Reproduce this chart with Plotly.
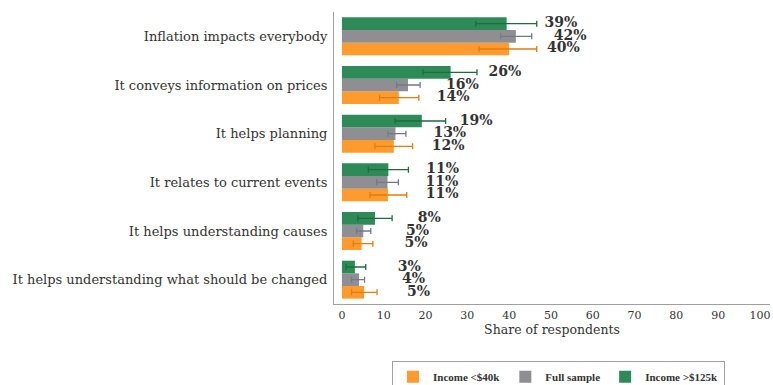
import plotly.graph_objects as go

# Reasons respondents give, listed top to bottom
categories = [
    "Inflation impacts everybody",
    "It conveys information on prices",
    "It helps planning",
    "It relates to current events",
    "It helps understanding causes",
    "It helps understanding what should be changed",
]

series_names = ["Income <$40k", "Full sample", "Income >$125k"]

# Shares (%) and confidence bounds per group
low_income = [40.0, 13.6, 12.4, 11.0, 4.7, 5.3]
low_income_lo = [32.8, 9.0, 7.9, 6.7, 2.7, 2.3]
low_income_hi = [46.6, 18.4, 16.9, 15.5, 7.4, 8.4]

full_sample = [41.6, 15.8, 12.8, 10.9, 5.1, 4.1]
full_sample_lo = [38.0, 13.1, 11.0, 8.3, 3.5, 2.3]
full_sample_hi = [45.4, 18.7, 15.3, 13.5, 6.9, 5.4]

high_income = [39.4, 26.0, 19.1, 11.1, 7.9, 3.1]
high_income_lo = [32.0, 19.4, 12.7, 6.3, 3.8, 1.0]
high_income_hi = [46.6, 32.3, 24.8, 15.9, 12.0, 5.7]

x_ticks = [0, 10, 20, 30, 40, 50, 60, 70, 80, 90, 100]

bar_colors = ["#ff9a2e", "#8f8f93", "#2e8b57"]
err_colors = ["#e07d10", "#6f7a8f", "#1f6b3f"]
LABEL_SHIFT = 13  # label centre sits this far right of the bar end

SERIF = "DejaVu Serif"
LEGEND_SERIF = "Liberation Serif"
TEXT = "#333333"

series = [
    (low_income, low_income_lo, low_income_hi),
    (full_sample, full_sample_lo, full_sample_hi),
    (high_income, high_income_lo, high_income_hi),
]

fig = go.Figure()

for i, (name, (vals, lo, hi)) in enumerate(zip(series_names, series)):
    fig.add_trace(go.Bar(
        name=name,
        orientation="h",
        x=vals,
        y=categories,
        marker=dict(color=bar_colors[i], line=dict(width=0)),
        offsetgroup=str(i),
        error_x=dict(
            type="data",
            symmetric=False,
            array=[h - v for h, v in zip(hi, vals)],
            arrayminus=[v - l for v, l in zip(vals, lo)],
            color=err_colors[i],
            thickness=1.3,
            width=3,
        ),
    ))

for i, (vals, lo, hi) in enumerate(series):
    fig.add_trace(go.Scatter(
        x=[v + LABEL_SHIFT for v in vals],
        y=categories,
        orientation="h",
        mode="text",
        text=[f"<b>{v:.0f}%</b>" for v in vals],
        textposition="middle center",
        textfont=dict(family=SERIF, size=14, color=TEXT),
        offsetgroup=str(i),
        showlegend=False,
        hoverinfo="skip",
        cliponaxis=False,
    ))

fig.update_layout(
    width=773,
    height=385,
    barmode="group",
    scattermode="group",
    bargap=0.22,
    bargroupgap=0,
    scattergap=0.22,
    plot_bgcolor="white",
    paper_bgcolor="white",
    margin=dict(l=334, r=3, t=12, b=81, autoexpand=False),
    font=dict(family=SERIF, color=TEXT),
    xaxis=dict(
        range=[-1.9, 102.4],
        tickvals=x_ticks,
        ticktext=[str(t) for t in x_ticks],
        tickfont=dict(family=SERIF, size=11, color=TEXT),
        showgrid=False,
        zeroline=False,
        showline=True,
        linecolor="#a0a0a0",
        linewidth=1,
        ticks="",
        ticklen=0,
        ticklabelstandoff=1,
        title=dict(text="Share of respondents", font=dict(family=SERIF, size=12.5, color=TEXT), standoff=1),
    ),
    yaxis=dict(
        categoryorder="array",
        categoryarray=categories[::-1],
        range=[-0.5, 5.5],
        tickfont=dict(family=SERIF, size=13, color=TEXT),
        showgrid=False,
        zeroline=False,
        showline=True,
        linecolor="#a0a0a0",
        linewidth=1,
        ticks="",
        ticklabelstandoff=3,
    ),
    legend=dict(
        orientation="h",
        x=0.133,
        xanchor="left",
        yref="container",
        y=0.062,
        yanchor="top",
        traceorder="normal",
        bordercolor="#a0a0a0",
        borderwidth=1,
        font=dict(family=LEGEND_SERIF, size=11, color=TEXT, weight="bold"),
        itemwidth=30,
        tracegroupgap=0,
    ),
)

fig.write_html("out.html")
